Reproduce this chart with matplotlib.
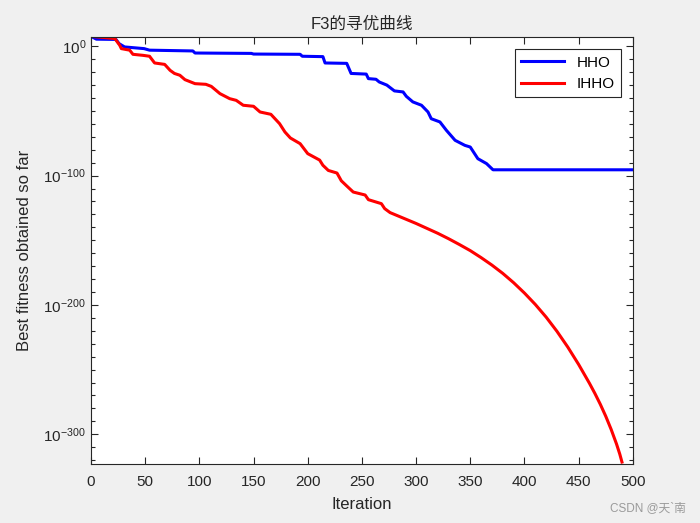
import matplotlib
matplotlib.use("Agg")
import matplotlib.pyplot as plt
from matplotlib.ticker import FixedLocator, LogFormatterSciNotation, NullFormatter
import numpy as np

# iteration / log10(best fitness)
hho_iter = [0, 5, 23, 26, 31, 49, 54, 94, 96, 148, 150, 193, 195, 214, 216, 236, 240,
            254, 256, 263, 266, 273, 280, 288, 291, 297, 305, 311, 314, 322, 328, 336,
            345, 350, 357, 365, 371, 500]
hho_exp = [7.7, 5.5, 5.3, 2, -0.5, -1.8, -3, -3.6, -5.2, -5.5, -6, -6.2, -7.7, -8, -12.9,
           -13.2, -21, -21.5, -25, -25.5, -27.6, -30, -34.5, -35.3, -38.7, -43, -45.6,
           -50.8, -56, -58.5, -65, -72.7, -76.6, -77.9, -86.9, -90.7, -95.5, -95.5]

ihho_iter = [0, 22, 26.5, 28, 35.7, 38.7, 48, 54, 58.7, 68, 73, 77, 82, 86.7, 96, 106,
             111, 119, 128, 134, 140.5, 150, 156, 166, 174, 179, 184, 193, 200, 211, 214,
             219, 227, 231, 236, 242, 253, 256, 268, 271, 276, 290, 300, 310, 320, 330,
             340, 350, 360, 370, 380, 390, 400, 410, 420, 430, 440, 450, 460, 465, 470,
             475, 480, 485, 488, 490]
ihho_exp = [7.7, 6, 0.8, -1.8, -3, -6.2, -7, -7.7, -12.9, -14, -18.6, -21, -22.4, -25.8,
            -28.9, -29.4, -31, -36.6, -40.5, -41.8, -45.6, -46.4, -50.8, -52.6, -59.8,
            -66.3, -70.9, -75.3, -83, -88, -92, -96, -98, -104, -108, -112.7, -115,
            -118.6, -121.7, -125.5, -128.6, -133.5, -137, -140.8, -144.6, -148.8, -153.3,
            -158, -163.4, -169.2, -175.6, -182.8, -190.8, -199.6, -209.4, -220.4, -232.6,
            -246, -260.6, -268.4, -276.8, -286, -296.2, -307.6, -315.4, -321.5]

x_ticks = [0, 50, 100, 150, 200, 250, 300, 350, 400, 450, 500]
y_ticks = [1e0, 1e-100, 1e-200, 1e-300]

ink = "#262626"
plt.rcParams['font.family'] = ['Liberation Sans', 'Noto Sans CJK SC']
plt.rcParams['axes.unicode_minus'] = False

fig = plt.figure(figsize=(7, 5.23), dpi=100, facecolor="#f0f0f0")
ax = fig.add_axes([0.13, 0.1128, 0.774, 0.816])

ax.plot(hho_iter, 10.0 ** np.array(hho_exp), color="blue", lw=2.2, label="HHO")
ax.plot(ihho_iter, 10.0 ** np.array(ihho_exp), color="red", lw=2.2, label="IHHO")

ax.set_yscale("log")
ax.set_xlim(0, 500)
ax.set_ylim(10.0 ** -323, 10.0 ** 7)
ax.set_xticks(x_ticks)
ax.yaxis.set_major_locator(FixedLocator(y_ticks))
ax.yaxis.set_major_formatter(LogFormatterSciNotation())
ax.yaxis.set_minor_locator(FixedLocator([10.0 ** k for k in range(-320, 1, 10)]))
ax.yaxis.set_minor_formatter(NullFormatter())

ax.tick_params(which="both", direction="in", top=True, right=True, colors=ink,
               labelsize=11, width=0.8)
ax.tick_params(which="major", length=5)
ax.tick_params(which="minor", length=3)
ax.tick_params(axis="x", pad=8)
for s in ax.spines.values():
    s.set_color(ink)
    s.set_linewidth(0.8)

ax.set_title("F3的寻优曲线", fontsize=12, color=ink, pad=6)
ax.set_xlabel("Iteration", fontsize=12, color=ink, labelpad=6)
ax.set_ylabel("Best fitness obtained so far", fontsize=12, color=ink, labelpad=8)

leg = ax.legend(loc="upper right", fontsize=11, fancybox=False, framealpha=1,
                edgecolor=ink, handlelength=2.8, borderaxespad=0.8)
leg.get_frame().set_linewidth(0.8)

fig.text(0.98, 0.028, "CSDN @天`南", ha="right", va="center", fontsize=8.5,
         color="#9a9a9a")

fig.savefig("out.png", dpi=100, facecolor=fig.get_facecolor())
